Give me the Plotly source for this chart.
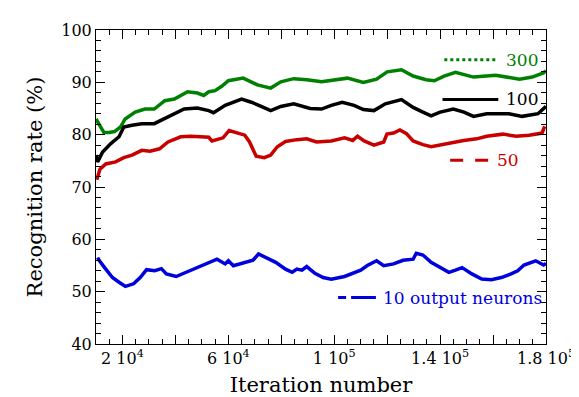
import plotly.graph_objects as go

# ---- data ----
x_300 = [10000, 11900, 13000, 15000, 17000, 19300, 21000, 24800, 28500, 32000, 36000, 39600, 44600,
         48300, 50700, 52600, 55000, 57600, 60000, 65600, 68000, 71000, 76000, 79800, 84700, 89600,
         95200, 100000, 105000, 111000, 116000, 120000, 125400, 129800, 134700, 137800, 141500,
         145800, 152600, 161000, 170000, 174800, 179000, 180000]
y_300 = [83.0, 81.45, 80.4, 80.4, 80.6, 81.5, 83.0, 84.3, 84.9, 84.9, 86.5, 86.8, 88.2,
         87.95, 87.5, 88.2, 88.4, 89.3, 90.3, 90.8, 90.3, 89.5, 88.9, 90.1, 90.7, 90.5,
         90.1, 90.4, 90.8, 90.0, 90.6, 92.0, 92.4, 91.2, 90.5, 90.3, 91.2,
         91.9, 91.0, 91.35, 90.6, 91.0, 91.8, 92.2]

x_100 = [10000, 10600, 12500, 15600, 18700, 20500, 23600, 27300, 32000, 37000, 43300, 48300, 52600,
         54400, 58800, 65000, 68700, 72400, 76000, 79800, 84700, 90900, 95200, 98900, 103000,
         107500, 111000, 115000, 119300, 125400, 129800, 133500, 136600, 140000, 145000, 149000,
         152600, 157600, 166000, 171000, 177000, 180000]
y_100 = [76.1, 74.8, 76.7, 78.3, 79.6, 81.45, 81.8, 82.1, 82.1, 83.3, 84.9, 85.1, 84.6,
         84.2, 85.6, 86.8, 86.2, 85.4, 84.6, 85.4, 85.9, 85.0, 84.9, 85.6, 86.2,
         85.6, 84.8, 84.6, 85.9, 86.7, 85.2, 84.3, 83.6, 84.3, 84.9, 84.3,
         83.5, 84.0, 84.0, 83.5, 84.0, 85.4]

x_50 = [10300, 10700, 11500, 13700, 17400, 20500, 23600, 27300, 30400, 34000, 37200, 42000, 45800,
        49500, 52600, 53800, 58000, 60300, 63700, 66200, 68000, 69600, 70500, 73600, 76000, 78500,
        81600, 85900, 89600, 93300, 98900, 103900, 107000, 108800, 111300, 115000, 118700, 119900,
        122400, 124800, 127300, 129800, 133500, 136600, 142700, 148900, 153800, 157600, 163700,
        168700, 173600, 178500, 179500]
y_50 = [71.4, 72.3, 73.4, 74.4, 74.8, 75.6, 76.1, 77.0, 76.85, 77.3, 78.6, 79.6, 79.7,
        79.6, 79.5, 78.8, 79.4, 80.8, 80.3, 79.9, 78.6, 76.7, 75.9, 75.6, 76.1, 77.7,
        78.7, 79.05, 79.2, 78.6, 78.8, 79.4, 78.9, 79.7, 78.8, 78.0, 78.6, 80.1,
        80.3, 80.9, 80.2, 78.8, 78.1, 77.7, 78.3, 78.9, 79.2, 79.7, 80.1,
        79.7, 79.9, 80.3, 81.6]

x_10 = [10600, 11300, 13700, 16200, 18700, 21100, 24200, 26700, 29100, 32200, 34700, 36600, 40300,
        44600, 48300, 51400, 55700, 58800, 60000, 61900, 65600, 69300, 71400, 74200, 77900, 81600,
        84100, 85900, 87800, 89600, 92700, 95800, 98900, 103900, 110000, 112500, 116000, 118700,
        122400, 126000, 129800, 131000, 133500, 136600, 140200, 143300, 145800, 148300, 152000,
        155700, 159400, 163100, 166800, 169300, 171700, 176100, 179100, 180000]
y_10 = [56.5, 55.9, 54.3, 52.7, 51.8, 51.0, 51.5, 52.7, 54.2, 54.0, 54.4, 53.4, 52.9,
        53.8, 54.6, 55.3, 56.2, 55.3, 55.9, 54.95, 55.5, 56.0, 57.2, 56.5, 55.6, 54.3,
        53.7, 54.3, 54.1, 54.8, 53.5, 52.7, 52.4, 52.9, 54.1, 55.0, 55.9, 54.95,
        55.3, 56.0, 56.2, 57.35, 57.0, 55.6, 54.6, 53.7, 54.1, 54.6, 53.4,
        52.4, 52.3, 52.7, 53.4, 54.0, 55.1, 55.9, 55.1, 55.4]

legend_labels = ["300", "100", "50", "10 output neurons"]
x_tickvals = [20000, 40000, 60000, 80000, 100000, 120000, 140000, 160000, 180000]
x_ticktext = ["2 10<sup>4</sup>", "", "6 10<sup>4</sup>", "", "1 10<sup>5</sup>", "",
              "1.4 10<sup>5</sup>", "", "1.8 10<sup>5</sup>"]

GREEN = "rgb(0,128,0)"
BLACK = "rgb(0,0,0)"
RED = "rgb(200,0,0)"
BLUE = "rgb(0,0,220)"
FONT = "DejaVu Serif"

fig = go.Figure()
for xs, ys, col in [(x_300, y_300, GREEN), (x_100, y_100, BLACK),
                    (x_50, y_50, RED), (x_10, y_10, BLUE)]:
    fig.add_trace(go.Scatter(x=xs, y=ys, mode="lines",
                             line=dict(color=col, width=3.5), showlegend=False))

# in-plot legend (line samples + labels)
legend_spec = [
    (legend_labels[0], GREEN, "3px,3px", 0.774, 0.894, 0.905),
    (legend_labels[1], BLACK, "solid", 0.770, 0.894, 0.779),
    (legend_labels[2], RED, "13px,12px", 0.787, 0.874, 0.585),
    (legend_labels[3], BLUE, "8px,5px,25px,5px", 0.538, 0.622, 0.148),
]
for text, col, dash, x0, x1, yy in legend_spec:
    fig.add_shape(type="line", xref="paper", yref="paper", x0=x0, x1=x1, y0=yy, y1=yy,
                  line=dict(color=col, width=3, dash=dash))
    fig.add_annotation(xref="paper", yref="paper", x=x1 + 0.012, y=yy, text=text,
                       showarrow=False, xanchor="left", yanchor="middle",
                       font=dict(family=FONT, size=17, color=col))

axis_common = dict(showline=True, linecolor="black", linewidth=1, mirror="allticks",
                   ticks="inside", tickcolor="black", tickwidth=1, showgrid=False,
                   zeroline=False, ticklabeloverflow="allow",
                   tickfont=dict(family=FONT, size=16, color="black"))

fig.update_xaxes(range=[10000, 180000], tickmode="array", tickvals=x_tickvals,
                 ticktext=x_ticktext, ticklen=9,
                 minor=dict(tickmode="linear", tick0=0, dtick=5000, ticklen=5,
                            ticks="inside", tickcolor="black", showgrid=False),
                 title=dict(text="Iteration number", font=dict(family=FONT, size=21, color="black"),
                            standoff=10),
                 **axis_common)
fig.update_yaxes(range=[40, 100], tickmode="linear", tick0=40, dtick=10, ticklen=9,
                 minor=dict(tickmode="linear", tick0=40, dtick=2, ticklen=5,
                            ticks="inside", tickcolor="black", showgrid=False),
                 title=dict(text="Recognition rate (%)", font=dict(family=FONT, size=21, color="black"),
                            standoff=12),
                 **axis_common)

fig.update_layout(width=579, height=397, margin=dict(l=88, r=32, t=22, b=58),
                  plot_bgcolor="white", paper_bgcolor="white",
                  font=dict(family=FONT, color="black"))

fig.write_html("out.html")
